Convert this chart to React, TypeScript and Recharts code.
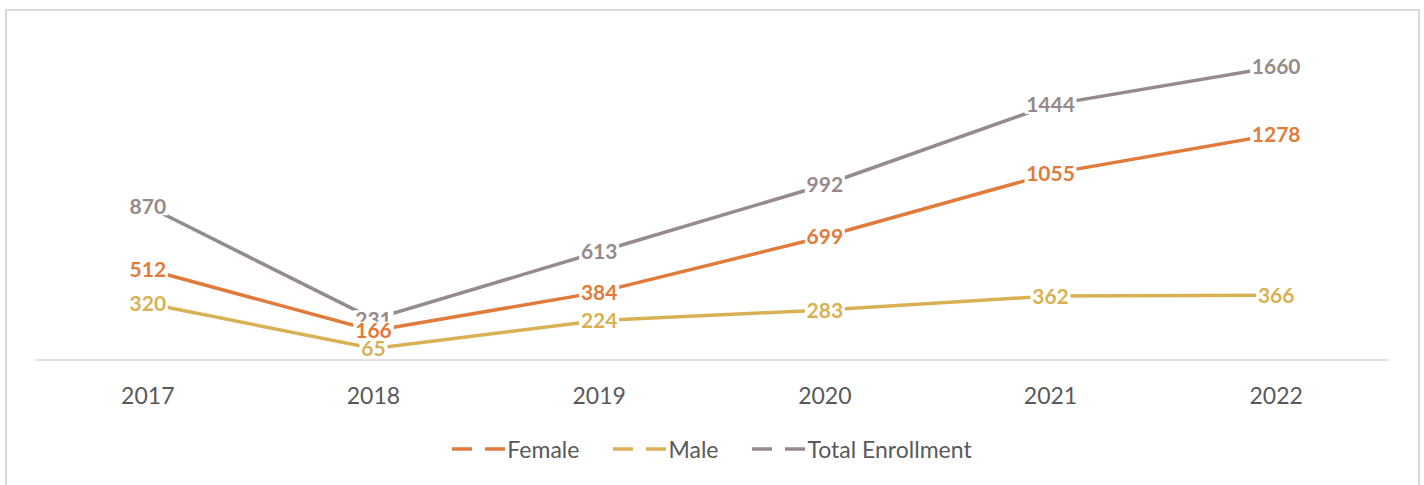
import { LineChart, Line, XAxis, YAxis, Legend, LabelList } from 'recharts';

const years = ['2017', '2018', '2019', '2020', '2021', '2022'];
const female = [512, 166, 384, 699, 1055, 1278];
const male = [320, 65, 224, 283, 362, 366];
const total = [870, 231, 613, 992, 1444, 1660];

const seriesInfo = [
  { key: 'female', name: 'Female', color: '#E07B3C' },
  { key: 'male', name: 'Male', color: '#D9B155' },
  { key: 'total', name: 'Total Enrollment', color: '#968A8A' },
];

// labels are drawn after all lines, in this order (last on top)
const labelOrder = ['total', 'female', 'male'];

const chartData = years.map((year, i) => ({
  year,
  female: female[i],
  male: male[i],
  total: total[i],
}));

const FONT = 'Lato, "Open Sans", sans-serif';

function makeLabel(color: string) {
  return (props: any) => {
    const { x, y, value } = props;
    const text = String(value);
    const w = text.length * 12 + 4;
    return (
      <g>
        <rect x={x - w / 2} y={y - 9} width={w} height={18} fill="#fff" />
        <text
          x={x}
          y={y}
          dy="0.36em"
          textAnchor="middle"
          fill={color}
          fontSize={21}
          fontWeight={700}
          fontFamily={FONT}
        >
          {text}
        </text>
      </g>
    );
  };
}

function LegendContent() {
  return (
    <div style={{ display: 'flex', justifyContent: 'center', height: 30, alignItems: 'center' }}>
      {seriesInfo.map((s, i) => (
        <div key={s.key} style={{ display: 'flex', alignItems: 'center', marginLeft: i === 0 ? 0 : 34 }}>
          <svg width={55} height={10}>
            <line x1={0} y1={5} x2={20} y2={5} stroke={s.color} strokeWidth={3.5} />
            <line x1={33} y1={5} x2={53} y2={5} stroke={s.color} strokeWidth={3.5} />
          </svg>
          <span style={{ color: '#595959', fontSize: 23, fontFamily: FONT }}>{s.name}</span>
        </div>
      ))}
    </div>
  );
}

export default function App() {
  return (
    <div style={{ position: 'absolute', left: 0, top: 0, width: 1424, height: 485, overflow: 'hidden', background: '#fff' }}>
      <div
        style={{
          position: 'absolute',
          left: 5,
          top: 9,
          width: 1411,
          height: 520,
          border: '2px solid #d9d9d9',
        }}
      />
      <div style={{ position: 'absolute', left: 0, top: 0 }}>
        <LineChart width={1424} height={485} data={chartData} margin={{ top: 42, right: 35, left: 35, bottom: 35 }}>
          <XAxis
            dataKey="year"
            padding={{ left: 112.8, right: 112.8 }}
            axisLine={{ stroke: '#d9d9d9', strokeWidth: 1.5 }}
            tickLine={false}
            tickMargin={22}
            height={60}
            tick={{ fill: '#595959', fontSize: 23, fontFamily: FONT }}
          />
          <YAxis hide domain={[0, 1800]} />
          <Legend
            content={<LegendContent />}
            wrapperStyle={{ top: 434, bottom: 'auto', height: 30 }}
          />
          {seriesInfo.map((s) => (
            <Line
              key={s.key}
              dataKey={s.key}
              name={s.name}
              stroke={s.color}
              strokeWidth={3.5}
              dot={false}
              activeDot={false}
              isAnimationActive={false}
            />
          ))}
          {labelOrder.map((k) => {
            const s = seriesInfo.find((it) => it.key === k)!;
            return (
              <Line
                key={'lbl-' + k}
                dataKey={k}
                stroke="none"
                legendType="none"
                dot={false}
                activeDot={false}
                isAnimationActive={false}
              >
                <LabelList dataKey={k} content={makeLabel(s.color)} />
              </Line>
            );
          })}
        </LineChart>
      </div>
    </div>
  );
}
